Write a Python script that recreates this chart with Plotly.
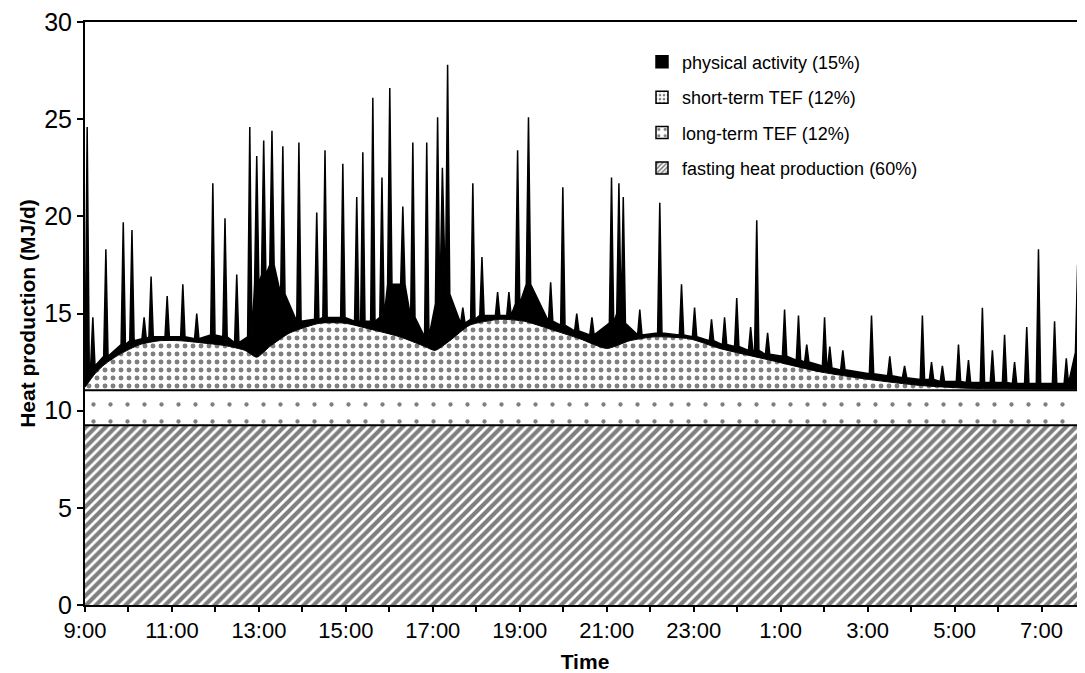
import plotly.graph_objects as go

# ---------------- data ----------------
# time axis: hours elapsed since 9:00
tick_hours = list(range(0, 23))
tick_labels = ["9:00", "", "11:00", "", "13:00", "", "15:00", "", "17:00", "", "19:00", "",
               "21:00", "", "23:00", "", "1:00", "", "3:00", "", "5:00", "", "7:00"]

time_span = [0.0, 23.0]
fasting_level = [9.25, 9.25]        # fasting heat production (MJ/d)
long_term_top = [11.05, 11.05]      # fasting + long-term TEF

# fasting + long-term TEF + short-term TEF (upper edge of dotted area)
tef_time = [0.0, 0.23, 0.46, 0.80, 1.26, 1.72, 2.18, 2.64, 3.22, 3.68, 3.95, 4.25, 4.71,
            5.40, 5.98, 6.55, 7.24, 7.82, 8.05, 8.39, 8.85, 9.54, 10.11, 10.69, 11.38,
            12.00, 12.53, 13.10, 13.90, 14.60, 15.75, 16.90, 18.05, 19.20, 20.34, 23.0]
tef_top = [11.2, 11.9, 12.4, 12.9, 13.4, 13.6, 13.6, 13.5, 13.35, 13.1, 12.75, 13.3, 14.0,
           14.5, 14.5, 14.2, 13.8, 13.3, 13.1, 13.6, 14.4, 14.7, 14.6, 14.2, 13.7,
           13.2, 13.6, 13.8, 13.7, 13.2, 12.6, 12.0, 11.6, 11.3, 11.15, 11.1]

# physical activity bursts: time of burst, total heat production at its peak,
# and the total level at the foot of the burst
pa_start = [0.0, 11.3]
pa_spike_time = [0.05, 0.18, 0.48, 0.88, 1.08, 1.36, 1.52, 1.89, 2.25, 2.57,
                 2.94, 3.22, 3.49, 3.79, 3.95, 4.11, 4.30, 4.55, 4.92, 5.33,
                 5.52, 5.93, 6.25, 6.39, 6.62, 6.83, 7.01, 7.31, 7.54, 7.86,
                 8.11, 8.22, 8.34, 8.69, 8.92, 9.13, 9.49, 9.75, 9.95, 10.20,
                 10.71, 10.99, 11.31, 11.66, 12.11, 12.28, 12.38, 12.76, 13.22, 13.72,
                 14.02, 14.41, 14.71, 14.99, 15.31, 15.45, 15.70, 16.09, 16.41, 16.60,
                 17.01, 17.13, 17.43, 18.09, 18.51, 18.85, 19.26, 19.47, 19.72, 20.09,
                 20.32, 20.64, 20.87, 21.15, 21.38, 21.66, 21.93, 22.30, 22.57, 22.83,
                 22.97]
pa_spike_peak = [24.6, 14.8, 18.3, 19.7, 19.3, 14.8, 16.9, 15.9, 16.5, 15.0,
                 21.7, 19.9, 17.0, 24.6, 23.1, 23.9, 24.4, 23.6, 23.8, 20.2,
                 23.4, 22.7, 21.0, 23.3, 26.1, 22.0, 26.6, 20.5, 23.8, 23.8,
                 25.1, 22.5, 27.8, 15.3, 21.7, 17.9, 16.1, 16.1, 23.4, 25.1,
                 16.6, 21.5, 15.0, 14.8, 22.0, 21.7, 21.0, 15.2, 20.7, 16.5,
                 15.3, 14.7, 14.8, 15.8, 14.3, 19.8, 14.0, 15.2, 14.9, 13.4,
                 14.8, 13.3, 13.1, 14.9, 12.8, 12.3, 14.9, 12.5, 12.3, 13.4,
                 12.6, 15.3, 13.1, 13.9, 12.5, 14.3, 18.3, 14.6, 12.7, 17.5,
                 19.4]
pa_spike_base = [11.7, 12.3, 12.8, 13.4, 13.6, 13.7, 13.8, 13.8, 13.8, 13.7,
                 13.9, 13.8, 13.5, 13.8, 16.5, 17.0, 17.5, 16.0, 14.6, 14.7,
                 14.8, 14.8, 14.6, 14.6, 14.6, 14.8, 16.5, 16.5, 14.8, 13.8,
                 15.5, 16.5, 16.0, 14.5, 14.7, 14.9, 14.9, 14.9, 15.5, 16.5,
                 14.6, 14.4, 14.1, 13.9, 14.5, 15.0, 14.5, 13.9, 14.0, 13.9,
                 13.8, 13.6, 13.4, 13.3, 13.1, 13.1, 12.9, 12.8, 12.6, 12.5,
                 12.3, 12.2, 12.1, 11.9, 11.8, 11.7, 11.6, 11.6, 11.5, 11.5,
                 11.45, 11.45, 11.45, 11.45, 11.4, 11.4, 11.4, 11.4, 11.4, 13.0,
                 15.0]
assert len(pa_spike_time) == len(pa_spike_peak) == len(pa_spike_base)

legend_names = ["physical activity (15%)", "short-term TEF (12%)",
                "long-term TEF (12%)", "fasting heat production (60%)"]

# ---------------- build physical-activity outline ----------------
HALF_WIDTH = 0.05  # visual half width of a burst (hours)
pa_x = [pa_start[0]]
pa_y = [pa_start[1]]
for t, p, b in zip(pa_spike_time, pa_spike_peak, pa_spike_base):
    pa_x += [t - HALF_WIDTH, t, t + HALF_WIDTH]
    pa_y += [b, p, b]

FONT = "Liberation Sans, Arial, Helvetica, sans-serif"

fasting_pat = dict(shape="/", size=7, solidity=0.6, fgcolor="black", bgcolor="white")
short_pat = dict(shape=".", size=8, solidity=0.3, fgcolor="black", bgcolor="white")
long_pat = dict(shape=".", size=17, solidity=0.05, fgcolor="black", bgcolor="white")

fig = go.Figure()

fig.add_trace(go.Scatter(x=time_span, y=fasting_level, mode="lines",
                         line=dict(color="black", width=2),
                         fill="tozeroy", fillcolor="white", fillpattern=fasting_pat,
                         showlegend=False, hoverinfo="skip"))
fig.add_trace(go.Scatter(x=time_span, y=long_term_top, mode="lines",
                         line=dict(color="black", width=2),
                         fill="tonexty", fillcolor="white", fillpattern=long_pat,
                         showlegend=False, hoverinfo="skip"))
fig.add_trace(go.Scatter(x=tef_time, y=tef_top, mode="lines",
                         line=dict(color="black", width=1, shape="spline", smoothing=0.6),
                         fill="tonexty", fillcolor="white", fillpattern=short_pat,
                         showlegend=False, hoverinfo="skip"))
fig.add_trace(go.Scatter(x=pa_x, y=pa_y, mode="lines",
                         line=dict(color="black", width=1.5),
                         fill="tonexty", fillcolor="black",
                         showlegend=False, hoverinfo="skip"))

# legend entries
legend_patterns = [dict(shape=""),
                   dict(shape=".", size=5, solidity=0.35, fgcolor="black", bgcolor="white"),
                   dict(shape=".", size=8, solidity=0.2, fgcolor="black", bgcolor="white"),
                   dict(shape="/", size=4, solidity=0.5, fgcolor="black", bgcolor="white")]
for i, (name, pat) in enumerate(zip(legend_names, legend_patterns)):
    fig.add_trace(go.Bar(x=[None], y=[None], name=name, legendgroup=f"g{i}",
                         marker=dict(color="black" if i == 0 else "white",
                                     line=dict(color="black", width=1.5), pattern=pat)))

# the page adds an 8 px body margin, so the figure is sized to the remaining viewport
fig.update_layout(
    width=1077, height=665,
    margin=dict(l=77, r=0, t=14, b=68),
    paper_bgcolor="white", plot_bgcolor="white",
    font=dict(family=FONT, color="black", size=22),
    showlegend=True,
    legend=dict(x=0.557, y=0.963, xanchor="left", yanchor="top",
                bgcolor="rgba(0,0,0,0)", font=dict(size=18, family=FONT),
                tracegroupgap=9, itemwidth=30),
)
fig.update_xaxes(type="linear", range=[0, 23], tickvals=tick_hours, ticktext=tick_labels,
                 automargin=False, ticklabeloverflow="allow",
                 showgrid=False, zeroline=False, showline=True, linecolor="black", linewidth=2,
                 mirror=True, ticks="outside", ticklen=5, tickwidth=1.5, tickcolor="black",
                 tickfont=dict(size=22, family=FONT),
                 title=dict(text="<b>Time</b>", font=dict(size=21, family=FONT), standoff=12))
fig.update_yaxes(range=[0, 30], tickvals=[0, 5, 10, 15, 20, 25, 30],
                 automargin=False, ticklabeloverflow="allow",
                 showgrid=False, zeroline=False, showline=True, linecolor="black", linewidth=2,
                 ticks="outside", ticklen=6, tickwidth=1.5, tickcolor="black",
                 tickfont=dict(size=25, family=FONT),
                 title=dict(text="<b>Heat production (MJ/d)</b>", font=dict(size=21, family=FONT),
                            standoff=3))

fig.write_html("out.html")
